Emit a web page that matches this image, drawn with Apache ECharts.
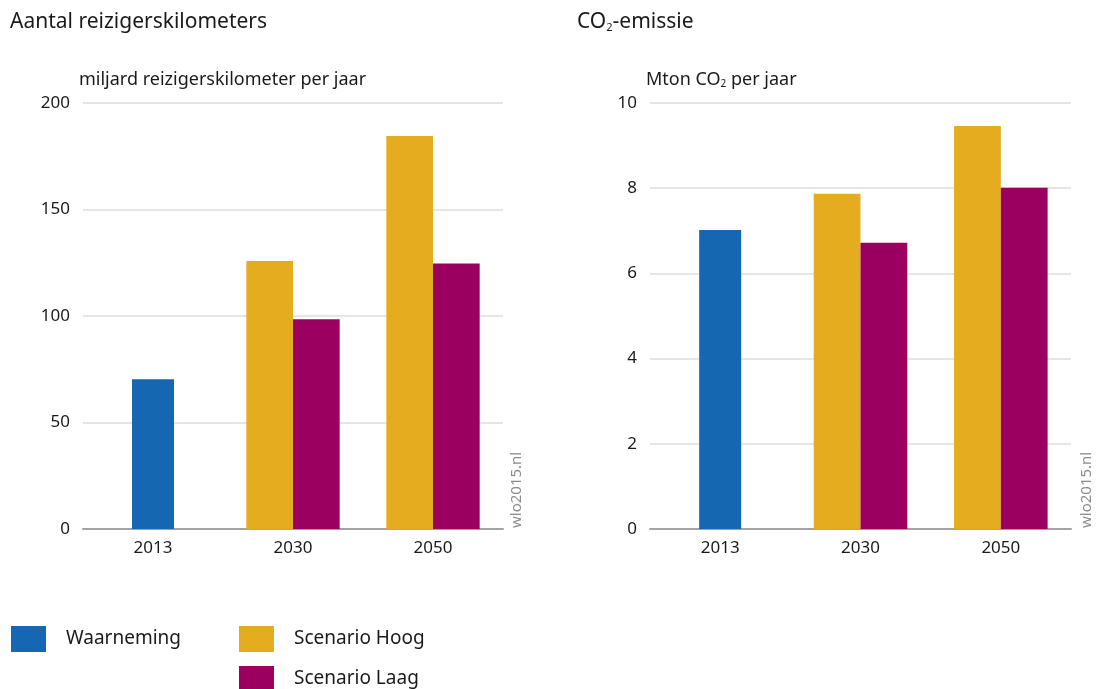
<!DOCTYPE html>
<html>
<head>
<meta charset="utf-8">
<script src="https://cdn.jsdelivr.net/npm/echarts@6/dist/echarts.min.js"></script>
<style>
html,body{margin:0;padding:0;background:#fff;}
#chart{width:1099px;height:689px;}
</style>
</head>
<body>
<div id="chart"></div>
<script>
// ---- data ----
var categories = ['2013', '2030', '2050'];
var kmWaarneming = [70.3, null, null];
var kmHoog = [null, 125.8, 184.5];
var kmLaag = [null, 98.5, 124.7];
var co2Waarneming = [7.02, null, null];
var co2Hoog = [null, 7.87, 9.46];
var co2Laag = [null, 6.72, 8.01];
var kmTicks = {min: 0, max: 200, interval: 50};
var co2Ticks = {min: 0, max: 10, interval: 2};

var FONT = 'Noto Sans';
var TXT = '#1a1a1a';
var C_BLUE = '#1467B0', C_YEL = '#E5AC20', C_MAG = '#9B0060';

var chart = echarts.init(document.getElementById('chart'));

function xAxisVisible(gi) {
  return {
    type: 'category', gridIndex: gi, data: categories,
    axisLine: {show: true, lineStyle: {color: '#a3a3a3', width: 2}},
    axisTick: {show: false},
    axisLabel: {color: TXT, fontFamily: FONT, fontSize: 17, margin: 11}
  };
}
function xAxisHidden(gi) {
  return {type: 'category', gridIndex: gi, data: categories, show: false};
}
function yAxis(gi, t, name) {
  return {
    type: 'value', gridIndex: gi, min: t.min, max: t.max, interval: t.interval,
    name: name, nameLocation: 'end', nameGap: 14,
    nameTextStyle: {
      color: TXT, fontFamily: FONT, fontSize: 18, align: 'left', padding: [0, 0, 0, -4],
      rich: {sub: {fontSize: 10, verticalAlign: 'bottom', padding: [8, 0, 0, 0], fontFamily: FONT, color: TXT}}
    },
    axisLine: {show: false}, axisTick: {show: false},
    axisLabel: {color: TXT, fontFamily: FONT, fontSize: 17, margin: 13},
    splitLine: {show: true, lineStyle: {color: '#dcdcdc', width: 1.5}}
  };
}
function legendItem(name, left, top) {
  return {data: [name], left: left, top: top, padding: 0, itemWidth: 35, itemHeight: 26,
    icon: 'rect', textStyle: {fontFamily: FONT, fontSize: 19, color: TXT, padding: [0, 0, 0, 15]}};
}

var option = {
  animation: false,
  backgroundColor: '#fff',
  title: [
    {text: 'Aantal reizigerskilometers', left: 5, top: 7,
     textStyle: {fontFamily: FONT, fontSize: 21, fontWeight: 'normal', color: TXT}},
    {text: 'CO{sub|2}-emissie', left: 572, top: 7,
     textStyle: {fontFamily: FONT, fontSize: 21, fontWeight: 'normal', color: TXT,
       rich: {sub: {fontFamily: FONT, fontSize: 11, color: TXT, verticalAlign: 'bottom', padding: [10, 0, 0, 0]}}}}
  ],
  grid: [
    {left: 83, top: 103, width: 420, height: 426},
    {left: 650, top: 103, width: 421, height: 426}
  ],
  xAxis: [xAxisVisible(0), xAxisHidden(0), xAxisVisible(1), xAxisHidden(1)],
  yAxis: [
    yAxis(0, kmTicks, 'miljard reizigerskilometer per jaar'),
    yAxis(1, co2Ticks, 'Mton CO{sub|2} per jaar')
  ],
  legend: [
    legendItem('Waarneming', 11, 626),
    legendItem('Scenario Hoog', 239, 626),
    legendItem('Scenario Laag', 239, 666)
  ],
  series: [
    {name: 'Waarneming', type: 'bar', xAxisIndex: 1, yAxisIndex: 0, data: kmWaarneming,
     barWidth: 42, itemStyle: {color: C_BLUE}},
    {name: 'Scenario Hoog', type: 'bar', xAxisIndex: 0, yAxisIndex: 0, data: kmHoog,
     barGap: 0, barCategoryGap: '33.33%', itemStyle: {color: C_YEL}},
    {name: 'Scenario Laag', type: 'bar', xAxisIndex: 0, yAxisIndex: 0, data: kmLaag,
     barGap: 0, barCategoryGap: '33.33%', itemStyle: {color: C_MAG}},
    {name: 'Waarneming', type: 'bar', xAxisIndex: 3, yAxisIndex: 1, data: co2Waarneming,
     barWidth: 42, itemStyle: {color: C_BLUE}},
    {name: 'Scenario Hoog', type: 'bar', xAxisIndex: 2, yAxisIndex: 1, data: co2Hoog,
     barGap: 0, barCategoryGap: '33.33%', itemStyle: {color: C_YEL}},
    {name: 'Scenario Laag', type: 'bar', xAxisIndex: 2, yAxisIndex: 1, data: co2Laag,
     barGap: 0, barCategoryGap: '33.33%', itemStyle: {color: C_MAG}}
  ],
  graphic: [
    {type: 'text', x: 517, y: 528, rotation: Math.PI / 2,
     style: {text: 'wlo2015.nl', fill: '#8c8c8c', font: '15px "Noto Sans"', align: 'left', verticalAlign: 'middle'}},
    {type: 'text', x: 1087, y: 528, rotation: Math.PI / 2,
     style: {text: 'wlo2015.nl', fill: '#8c8c8c', font: '15px "Noto Sans"', align: 'left', verticalAlign: 'middle'}}
  ]
};
chart.setOption(option);
</script>
</body>
</html>
